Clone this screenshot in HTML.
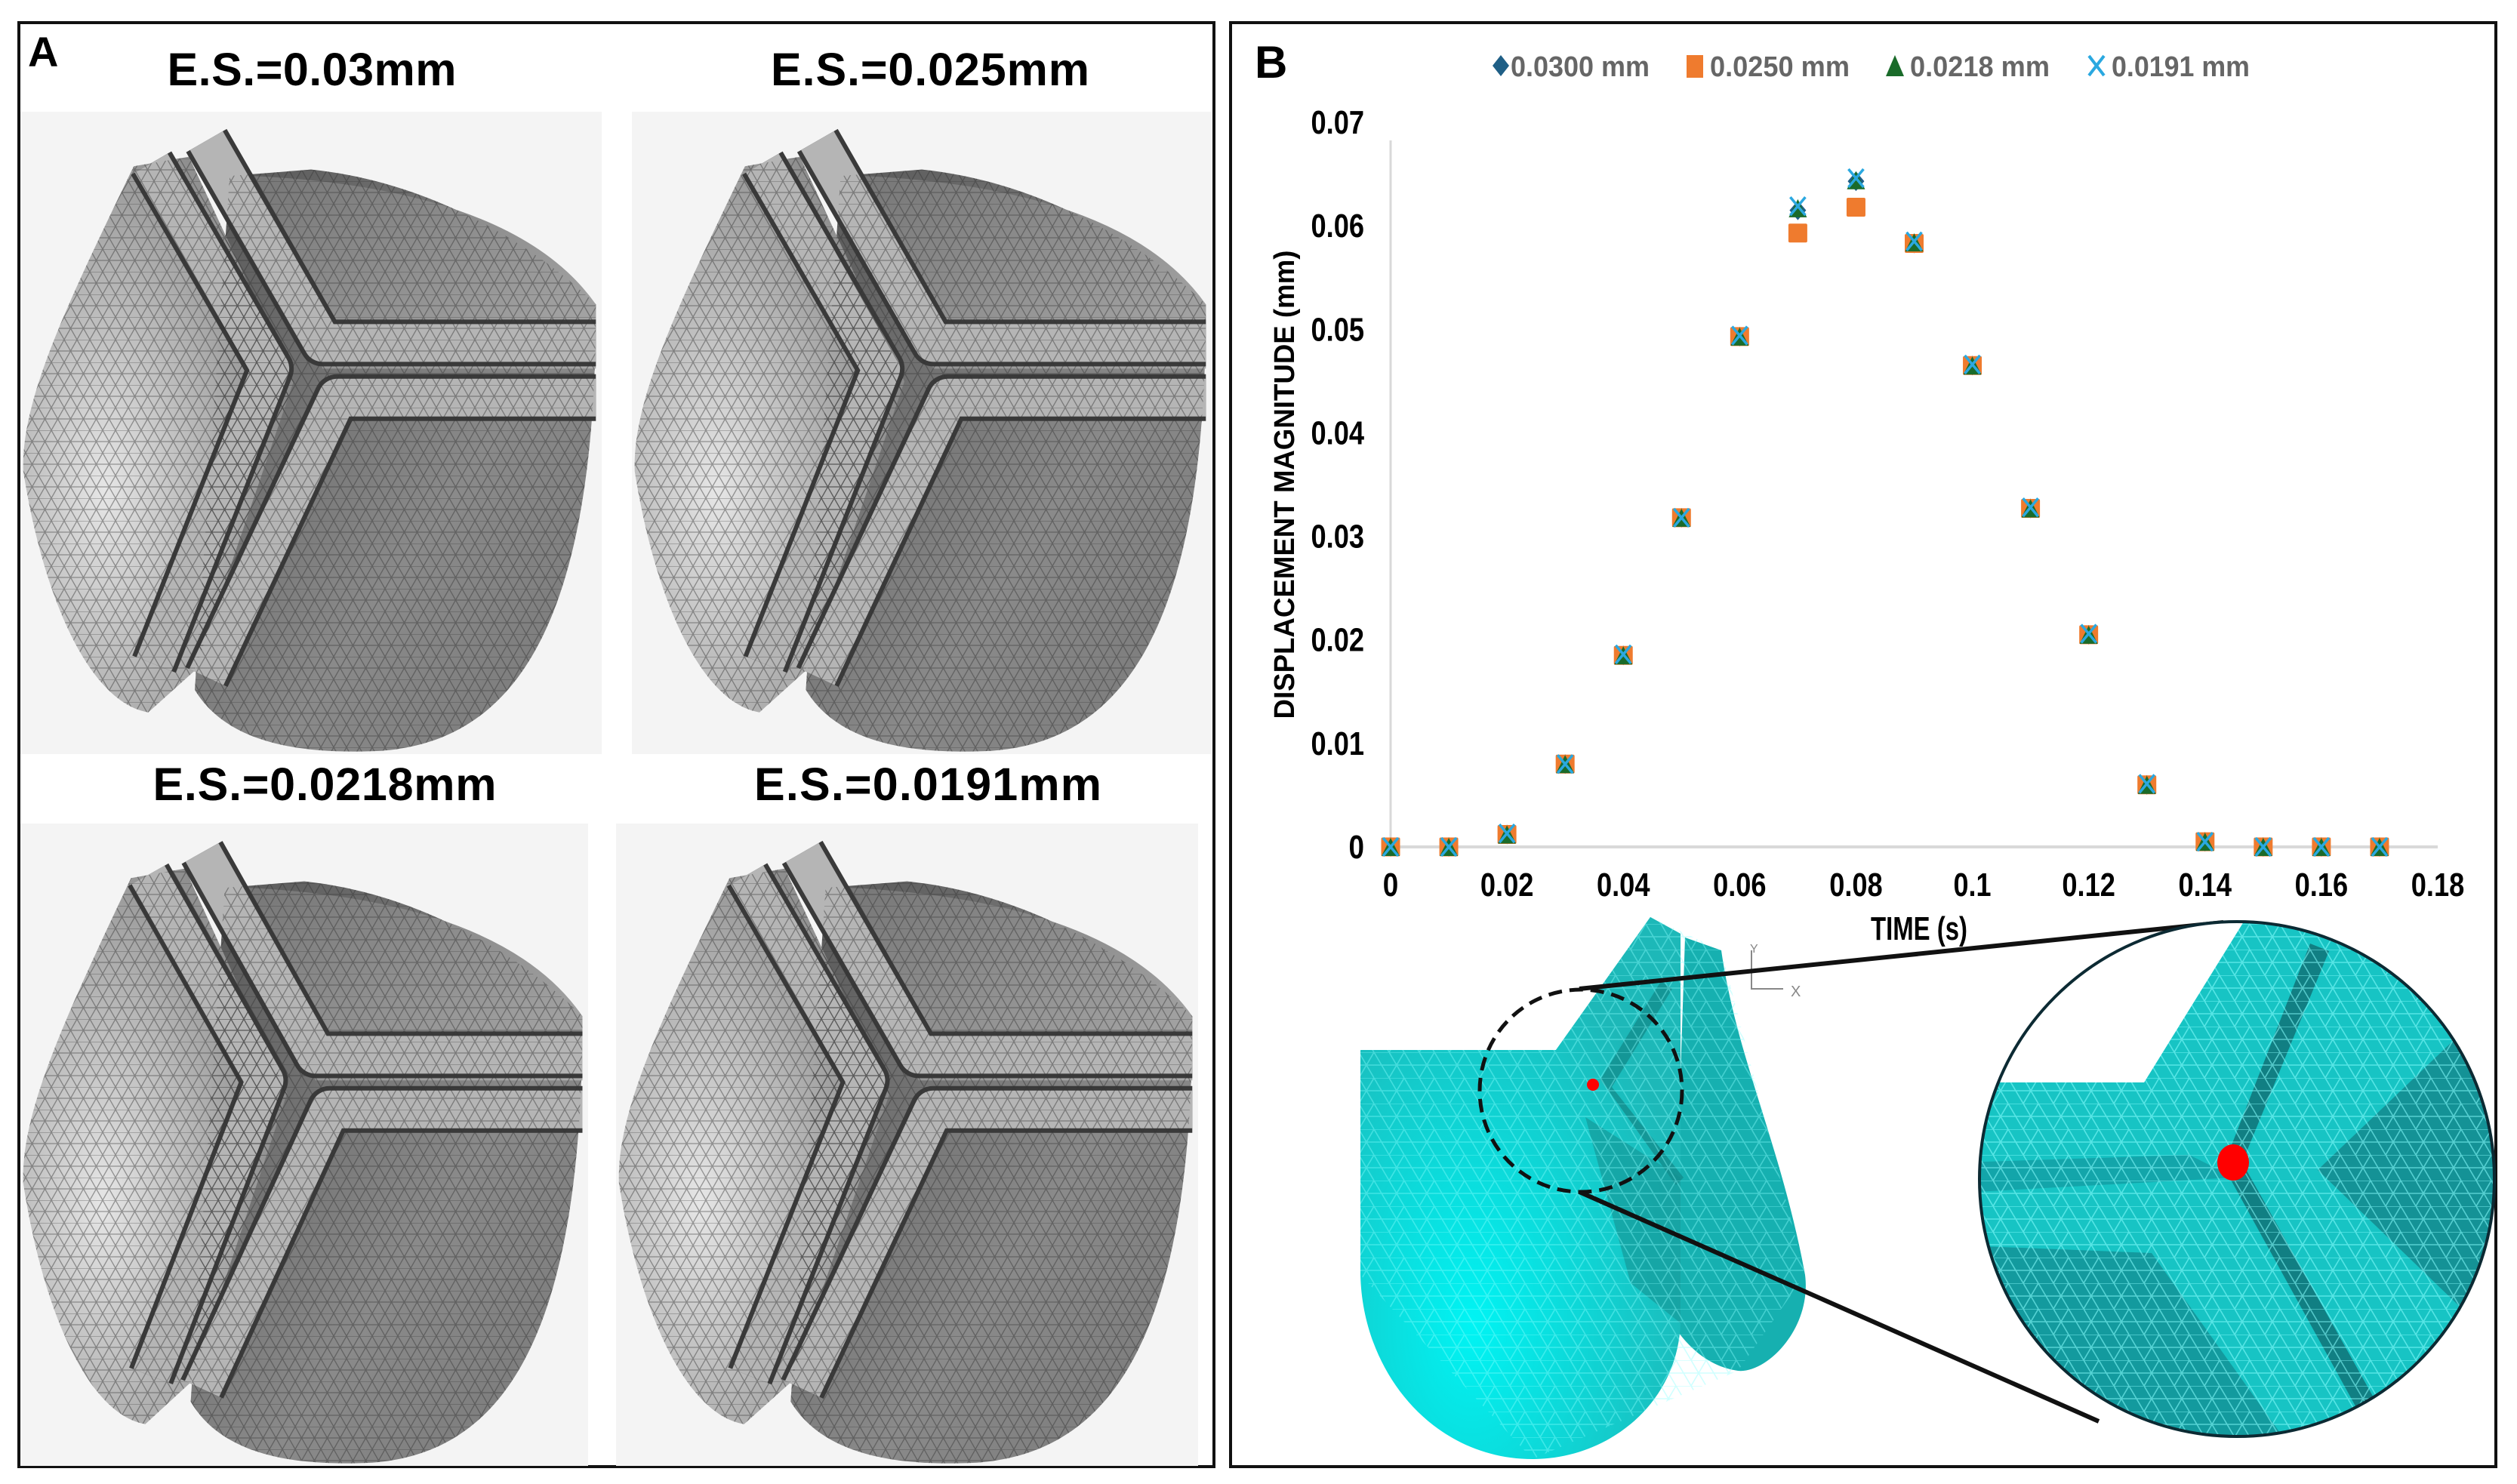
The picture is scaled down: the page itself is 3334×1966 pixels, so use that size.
<!DOCTYPE html>
<html><head><meta charset="utf-8"><style>
html,body{margin:0;padding:0;background:#fff;}
svg{display:block;}
text{font-family:"Liberation Sans",sans-serif;}
</style></head><body>
<svg id="fig" width="3334" height="1966" viewBox="0 0 3334 1966" xmlns="http://www.w3.org/2000/svg">
<defs>
<pattern id="meshG" width="34" height="30" patternUnits="userSpaceOnUse">
<path d="M0 0H34M0 15H34M0 30L17 0L34 30M-17 30L0 0M17 30L34 0M0 0L17 30" stroke="#333" stroke-width="1.3" fill="none" opacity="0.45"/>
</pattern>
<pattern id="meshC" width="40" height="34" patternUnits="userSpaceOnUse">
<path d="M0 0H40M0 17H40M0 34L20 0L40 34M0 0L20 34" stroke="#8ff" stroke-width="1.6" fill="none" opacity="0.8"/>
</pattern>
<radialGradient id="gLeaf" cx="0.3" cy="0.6" r="0.7"><stop offset="0" stop-color="#e6e6e6"/><stop offset="1" stop-color="#8a8a8a"/></radialGradient>
<linearGradient id="gDisk" x1="0" y1="0" x2="1" y2="1"><stop offset="0" stop-color="#555"/><stop offset="0.6" stop-color="#8a8a8a"/><stop offset="1" stop-color="#777"/></linearGradient>
<linearGradient id="gTop" x1="0" y1="0" x2="1" y2="1"><stop offset="0" stop-color="#777"/><stop offset="1" stop-color="#aaa"/></linearGradient>
<radialGradient id="gCy" cx="0.35" cy="0.75" r="0.7"><stop offset="0" stop-color="#00f4f4"/><stop offset="1" stop-color="#1db8b8"/></radialGradient>
<clipPath id="zoomClip"><circle cx="2963" cy="1562" r="341"/></clipPath>
</defs>

<!-- Panel A -->
<rect x="25" y="30" width="1583" height="1913" fill="#fff" stroke="#111" stroke-width="4"/>
<text x="37" y="88" font-size="56" font-weight="bold">A</text>
<g id="tiles"></g>
<text x="413" y="113" font-size="61" font-weight="bold" text-anchor="middle" textLength="383">E.S.=0.03mm</text>
<text x="1232" y="113" font-size="61" font-weight="bold" text-anchor="middle" textLength="422">E.S.=0.025mm</text>
<text x="430" y="1060" font-size="61" font-weight="bold" text-anchor="middle" textLength="455">E.S.=0.0218mm</text>
<text x="1229" y="1060" font-size="61" font-weight="bold" text-anchor="middle" textLength="460">E.S.=0.0191mm</text>

<!-- Panel B -->
<rect x="1630" y="30" width="1676" height="1913" fill="none" stroke="#111" stroke-width="4"/>
<text x="1662" y="103" font-size="60" font-weight="bold">B</text>

<g>
 <g><path d="M1977 87 l11 -14 l11 14 l-11 14z" fill="#1f5f86"/><text x="2001" y="101" font-size="38" font-weight="bold" fill="#666" textLength="184" lengthAdjust="spacingAndGlyphs">0.0300 mm</text></g>
 <g><rect x="2234" y="73" width="22" height="30" fill="#ef7b2e"/><text x="2265" y="101" font-size="38" font-weight="bold" fill="#666" textLength="185" lengthAdjust="spacingAndGlyphs">0.0250 mm</text></g>
 <g><path d="M2498 101 l12 -28 l12 28z" fill="#1a6b2a"/><text x="2530" y="101" font-size="38" font-weight="bold" fill="#666" textLength="185" lengthAdjust="spacingAndGlyphs">0.0218 mm</text></g>
 <g><path d="M2767 74 l20 26 M2787 74 l-20 26" stroke="#2aa8e0" stroke-width="4"/><text x="2797" y="101" font-size="38" font-weight="bold" fill="#666" textLength="183" lengthAdjust="spacingAndGlyphs">0.0191 mm</text></g>
</g>

<g id="chart"></g>
<text x="1714" y="642" font-size="38" font-weight="bold" text-anchor="middle" textLength="621" lengthAdjust="spacingAndGlyphs" transform="rotate(-90 1714 642)">DISPLACEMENT MAGNITUDE (mm)</text>
<text x="2542" y="1245" font-size="44" font-weight="bold" text-anchor="middle" textLength="128" lengthAdjust="spacingAndGlyphs">TIME (s)</text>

<!-- cyan valve -->
<g>
 <path d="M2232 1242 L2280 1259 C2300 1400 2360 1520 2391 1689 C2400 1760 2340 1820 2302 1816 C2260 1810 2232 1780 2215 1753 Z" fill="#16b0b0"/>
 <path d="M2186 1215 L2226 1237 L2140 1400 L2061 1391 Z" fill="#10c8c8"/>
 <path d="M1802 1391 L2061 1391 L2186 1215 L2226 1237 L2226 1753 C2222 1860 2130 1933 2030 1933 C1900 1933 1805 1820 1802 1689 Z" fill="url(#gCy)"/>
 <path d="M2100 1480 L2226 1560 L2226 1753 L2160 1700 Z" fill="#159a9a" opacity="0.7"/>
 <path d="M2120 1430 L2200 1300 L2215 1310 L2135 1440 L2230 1560 L2220 1570Z" fill="#138d8d" opacity="0.8"/>
 <path d="M1802 1391 L2061 1391 L2186 1215 L2280 1259 L2391 1689 L2302 1816 L2030 1933 L1802 1689Z" fill="url(#meshC)" opacity="0.5"/>
 <ellipse cx="2094" cy="1445" rx="134" ry="134" fill="none" stroke="#111" stroke-width="5" stroke-dasharray="18 10"/>
 <circle cx="2110" cy="1437" r="8" fill="#f00"/>
 <path d="M2320 1259 V1310 H2362" fill="none" stroke="#888" stroke-width="2"/>
 <text x="2318" y="1262" font-size="16" fill="#888">Y</text>
 <text x="2372" y="1320" font-size="20" fill="#888">X</text>
</g>
<line x1="2092" y1="1310" x2="2945" y2="1222" stroke="#111" stroke-width="6"/>
<line x1="2092" y1="1579" x2="2780" y2="1883" stroke="#111" stroke-width="6"/>
<g>
 <g clip-path="url(#zoomClip)">
  <rect x="2610" y="1210" width="720" height="720" fill="#17c4c4"/>
  <path d="M2600 1200 L2985 1200 L2840 1434 L2600 1434Z" fill="#fff"/>
  <path d="M3060 1250 L3085 1260 L2970 1540 L3160 1880 L3135 1890 L2945 1545Z" fill="#117f83"/>
  <path d="M3290 1340 L3330 1420 L3330 1800 L3070 1550Z" fill="#148a8e" opacity="0.85"/>
  <path d="M2600 1540 L2900 1530 L2960 1560 L2600 1580Z" fill="#1399a0" opacity="0.7"/>
  <path d="M2600 1650 L2850 1660 L3050 1940 L2600 1940Z" fill="#138c91" opacity="0.75"/>
  <rect x="2600" y="1200" width="740" height="740" fill="url(#meshC)" opacity="0.7"/>
  <path d="M2600 1200 L2985 1200 L2840 1434 L2600 1434Z" fill="#fff"/>
 </g>
 <circle cx="2963" cy="1562" r="341" fill="none" stroke="#0c2a33" stroke-width="4"/>
 <ellipse cx="2958" cy="1540" rx="21" ry="24" fill="#f00"/>
</g>
</svg>

<script>
// ----- chart data -----
var times = [0,0.01,0.02,0.03,0.04,0.05,0.06,0.07,0.08,0.09,0.1,0.11,0.12,0.13,0.14,0.15,0.16,0.17];
var es0300 = [0,0,0.0012,0.0080,0.0185,0.0318,0.0493,0.0615,0.0643,0.0583,0.0465,0.0327,0.0205,0.0060,0.0005,0,0,0];
var es0250 = [0,0,0.0012,0.0080,0.0185,0.0318,0.0493,0.0593,0.0618,0.0583,0.0465,0.0327,0.0205,0.0060,0.0005,0,0,0];
var es0218 = [0,0,0.0012,0.0080,0.0185,0.0318,0.0493,0.0617,0.0644,0.0584,0.0465,0.0327,0.0205,0.0060,0.0005,0,0,0];
var es0191 = [0,0,0.0013,0.0080,0.0186,0.0318,0.0494,0.0619,0.0646,0.0585,0.0466,0.0328,0.0206,0.0061,0.0005,0,0,0];
var xTicks = [0,0.02,0.04,0.06,0.08,0.1,0.12,0.14,0.16,0.18];
var xTickLabels = ["0","0.02","0.04","0.06","0.08","0.1","0.12","0.14","0.16","0.18"];
var yTicks = [0,0.01,0.02,0.03,0.04,0.05,0.06,0.07];
var yTickLabels = ["0","0.01","0.02","0.03","0.04","0.05","0.06","0.07"];

var NS = "http://www.w3.org/2000/svg";
function X(v){ return 1842 + (v/0.18)*(3229-1842); }
function Y(v){ return 1122 - (v/0.07)*(1122-162); }
function mk(tag, attrs, parent){ var e=document.createElementNS(NS,tag); for(var k in attrs) e.setAttribute(k,attrs[k]); parent.appendChild(e); return e; }
function narrowLen(s){ var n=0; for(var i=0;i<s.length;i++){ n += (s[i]=='.') ? 9 : 20.5; } return n; }

var chart = document.getElementById('chart');
var yAxis = mk('line',{x1:X(0),y1:Y(0.07)+24,x2:X(0),y2:Y(0),stroke:'#d9d9d9','stroke-width':3},chart);


var xAxis = mk('line',{x1:X(0),y1:Y(0),x2:X(0.18),y2:Y(0),stroke:'#d9d9d9','stroke-width':4},chart);


yTicks.forEach(function(v,i){
  var t = mk('text',{x:1807,y:Y(v)+15,'font-size':44,'font-weight':'bold','text-anchor':'end',textLength:narrowLen(yTickLabels[i]),lengthAdjust:'spacingAndGlyphs'},chart);
  t.textContent = yTickLabels[i];
  
  
});
xTicks.forEach(function(v,i){
  var t = mk('text',{x:X(v),y:1187,'font-size':44,'font-weight':'bold','text-anchor':'middle',textLength:narrowLen(xTickLabels[i]),lengthAdjust:'spacingAndGlyphs'},chart);
  t.textContent = xTickLabels[i];
  
  
});
times.forEach(function(t,i){
  var x=X(t), y;
  y=Y(es0300[i]);
  var d = mk('path',{d:'M'+(x-11)+' '+y+' l11 -13 l11 13 l-11 13z',fill:'#1f5f86'},chart);
  
  
  y=Y(es0250[i]);
  var s = mk('rect',{x:x-12.5,y:y-12.5,width:25,height:25,fill:'#ef7b2e',rx:2},chart);
  
  
  y=Y(es0218[i]);
  var tr = mk('path',{d:'M'+(x-12)+' '+(y+12)+' l12 -24 l12 24z',fill:'#1a6b2a'},chart);
  
  
  y=Y(es0191[i]);
  var c = mk('path',{d:'M'+(x-10)+' '+(y-12)+' l20 24 M'+(x+10)+' '+(y-12)+' l-20 24',stroke:'#2aa8e0','stroke-width':3.5,fill:'none'},chart);
  
  
});

// ----- gray valve tiles (illustrations) -----
var tiles = document.getElementById('tiles');
var boxes = [[27,148,770,851,'tile-es-003'],[837,148,768,851,'tile-es-0025'],[27,1091,752,851,'tile-es-00218'],[816,1091,771,851,'tile-es-00191']];
function pts(list,x0,y0,w,h){ return list.map(function(p){return (x0+p[0]*w).toFixed(1)+' '+(y0+p[1]*h).toFixed(1);}); }
boxes.forEach(function(b){
  var x0=b[0],y0=b[1],w=b[2],h=b[3];
  var g = mk('g',{},tiles);
  
  
  mk('rect',{x:x0,y:y0,width:w,height:h,fill:'#f4f4f4'},g);
  var disk = pts([[0.30,0.90],[0.36,0.99],[0.50,1.0],[0.62,0.995],[0.85,0.98],[0.99,0.80],[0.99,0.30],[0.9,0.22],[0.72,0.11],[0.50,0.09],[0.36,0.10]],x0,y0,w,h);
  var dpath = 'M'+disk[0]+' C'+disk[1]+' '+disk[2]+' '+disk[3]+' C'+disk[4]+' '+disk[5]+' '+disk[6]+' C'+disk[7]+' '+disk[8]+' '+disk[9]+' L'+disk[10]+'Z';
  mk('path',{d:dpath,fill:'url(#gDisk)'},g);
  var topr = pts([[0.40,0.10],[0.99,0.30],[0.99,0.40],[0.52,0.40]],x0,y0,w,h);
  mk('path',{d:'M'+topr[0]+' Q'+(x0+0.85*w)+' '+(y0+0.12*h)+' '+topr[1]+' L'+topr[2]+' L'+topr[3]+'Z',fill:'url(#gTop)'},g);
  var lf = pts([[0.195,0.085],[0.08,0.30],[0.0,0.45],[0.005,0.56],[0.04,0.76],[0.12,0.92],[0.22,0.935],[0.30,0.87],[0.47,0.42],[0.29,0.07]],x0,y0,w,h);
  var lpath = 'M'+lf[0]+' C'+lf[1]+' '+lf[2]+' '+lf[3]+' C'+lf[4]+' '+lf[5]+' '+lf[6]+' L'+lf[7]+' L'+lf[8]+' L'+lf[9]+'Z';
  mk('path',{d:lpath,fill:'url(#gLeaf)'},g);
  var bars = [[[0.225,0.08],[0.43,0.40],[0.23,0.86]],[[0.32,0.045],[0.52,0.36],[0.99,0.36]],[[0.99,0.445],[0.545,0.445],[0.32,0.88]]];
  bars.forEach(function(bb){
    var p = pts(bb,x0,y0,w,h);
    mk('path',{d:'M'+p[0]+' L'+p[1]+' L'+p[2],fill:'none',stroke:'#3a3a3a','stroke-width':62,'stroke-linejoin':'round'},g);
    mk('path',{d:'M'+p[0]+' L'+p[1]+' L'+p[2],fill:'none',stroke:'#b5b5b5','stroke-width':50,'stroke-linejoin':'round'},g);
  });
  mk('path',{d:lpath,fill:'url(#meshG)'},g);
  mk('path',{d:dpath,fill:'url(#meshG)'},g);
});
</script>
</body></html>
